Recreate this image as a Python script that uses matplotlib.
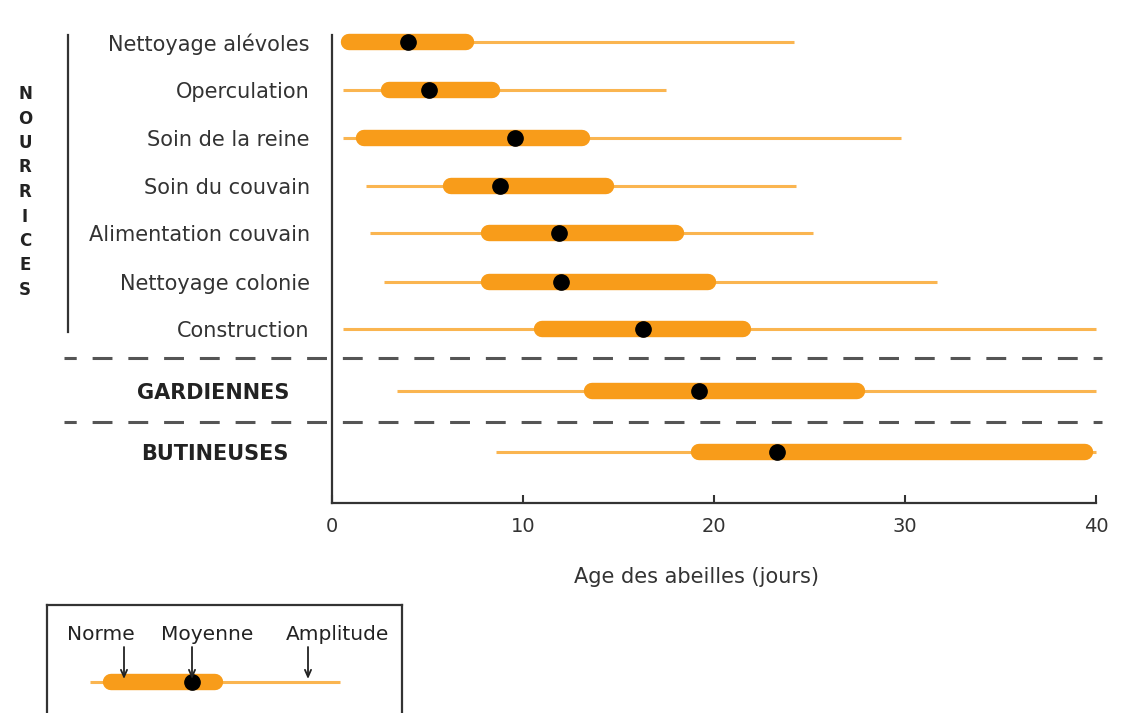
import matplotlib
matplotlib.use("Agg")
import matplotlib.pyplot as plt
from matplotlib.lines import Line2D
from matplotlib.patches import Rectangle

# ---------------- data ----------------
tasks = ["Nettoyage alévoles", "Operculation", "Soin de la reine", "Soin du couvain",
         "Alimentation couvain", "Nettoyage colonie", "Construction",
         "GARDIENNES", "BUTINEUSES"]
amp_min = [0.6, 0.6, 0.6, 1.8, 2.0, 2.7, 0.6, 3.4, 8.6]
amp_max = [24.2, 17.5, 29.8, 24.3, 25.2, 31.7, 40.0, 40.0, 40.0]
norm_min = [0.9, 3.0, 1.7, 6.25, 8.2, 8.2, 11.0, 13.6, 19.2]
norm_max = [7.0, 8.4, 13.1, 14.35, 18.0, 19.7, 21.5, 27.5, 39.45]
moyenne = [4.0, 5.1, 9.6, 8.8, 11.9, 12.0, 16.3, 19.2, 23.3]
x_ticks = [0, 10, 20, 30, 40]
group_label = "NOURRICES"
xlabel = "Age des abeilles (jours)"
legend_labels = ["Norme", "Moyenne", "Amplitude"]

# ---------------- layout ----------------
W, H = 1126, 713
row_y = [42.5, 90.3, 138.3, 186.5, 233.5, 282.5, 328.7, 390.7, 452.3]
bold_rows = [7, 8]
ORANGE = "#F89C1A"
THIN = "#FAB550"
TXT = "#333333"
FONT = "DejaVu Sans"

plt.rcParams["font.family"] = FONT


def fx(px):
    return px / W


def fy(py):
    return 1 - py / H


fig = plt.figure(figsize=(W / 100, H / 100), dpi=100)
fig.patch.set_facecolor("white")

ax = fig.add_axes([fx(332), fy(503), (1096 - 332) / W, (503 - 35) / H])
ax.set_xlim(0, 40)
ax.set_ylim(503, 35)

for i, y in enumerate(row_y):
    ax.plot([amp_min[i], amp_max[i]], [y, y], color=THIN, lw=2.2,
            solid_capstyle="butt", clip_on=False, zorder=2)
    ax.plot([norm_min[i], norm_max[i]], [y, y], color=ORANGE, lw=11.8,
            solid_capstyle="round", clip_on=False, zorder=3)
    ax.plot([moyenne[i]], [y], "o", color="black", ms=11, clip_on=False, zorder=4)

for s in ["top", "right"]:
    ax.spines[s].set_visible(False)
for s in ["left", "bottom"]:
    ax.spines[s].set_color(TXT)
    ax.spines[s].set_linewidth(1.6)

ax.set_xticks(x_ticks)
ax.set_xticklabels([str(t) for t in x_ticks])
ax.tick_params(axis="x", direction="in", length=6, width=1.5, color=TXT,
               labelsize=14, labelcolor=TXT, pad=10)

ax.set_yticks(row_y)
ax.set_yticklabels(tasks)
ax.tick_params(axis="y", length=0, labelsize=15, labelcolor=TXT, pad=16)
yticks = ax.yaxis.get_major_ticks()
for i in bold_rows:
    yticks[i].set_pad(31)
    yticks[i].label1.set_fontweight("bold")
    yticks[i].label1.set_fontsize(15)
    yticks[i].label1.set_color("#222222")

fig.text(fx(697), fy(577), xlabel, ha="center", va="center", fontsize=15, color=TXT)

# dashed separators
for yy in [357.5, 421.8]:
    fig.add_artist(Line2D([fx(64), fx(1102)], [fy(yy), fy(yy)], color="#555555",
                          lw=2.2, linestyle=(2.5, (6.5, 5.2))))

# bracket for NOURRICES
fig.add_artist(Line2D([fx(68), fx(68)], [fy(35), fy(332)], color=TXT, lw=1.6))
n = len(group_label)
y0, y1 = 94, 290
for k, ch in enumerate(group_label):
    yy = y0 + (y1 - y0) * k / (n - 1)
    fig.text(fx(25), fy(yy), ch, ha="center", va="center", fontsize=12,
             fontweight="bold", color="#222222")

# legend box
lax = fig.add_axes([fx(47), fy(725), (402 - 47) / W, (725 - 605) / H])
lax.set_xlim(47, 402)
lax.set_ylim(725, 605)
lax.set_xticks([])
lax.set_yticks([])
for s in lax.spines.values():
    s.set_color(TXT)
    s.set_linewidth(1.6)
leg_y = 682
lax.plot([90, 340], [leg_y, leg_y], color=THIN, lw=2.2, solid_capstyle="butt", zorder=2)
lax.plot([111, 215], [leg_y, leg_y], color=ORANGE, lw=11.8, solid_capstyle="round", zorder=3)
lax.plot([192], [leg_y], "o", color="black", ms=11, zorder=4)
for lbl, tx, ax_x in zip(legend_labels, [101, 207.5, 337.5], [124, 192, 308]):
    lax.text(tx, 634, lbl, ha="center", va="center", fontsize=14.5, color="#222222")
    lax.annotate("", xy=(ax_x, 679), xytext=(ax_x, 647),
                 arrowprops=dict(arrowstyle="->,head_length=0.5,head_width=0.22",
                                 color="#222222", lw=1.3, shrinkA=0, shrinkB=0),
                 zorder=5)

fig.savefig("out.png", dpi=100, facecolor="white")
